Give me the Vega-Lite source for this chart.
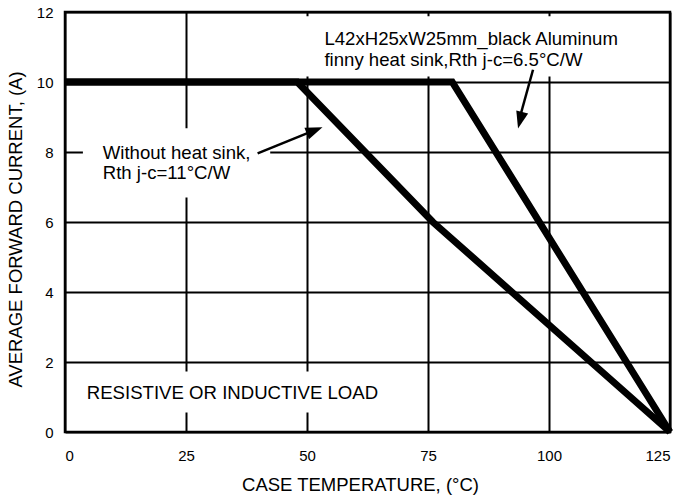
{
  "$schema": "https://vega.github.io/schema/vega-lite/v6.json",
  "width": 605,
  "height": 420,
  "autosize": "none",
  "padding": {"left": 65, "top": 12, "right": 11, "bottom": 68},
  "config": {
    "font": "Liberation Sans",
    "view": {"stroke": "black", "strokeWidth": 2.5},
    "axis": {
      "grid": true, "gridColor": "black", "gridWidth": 2, "gridOpacity": 1,
      "domain": false, "ticks": false, "tickSize": 0,
      "labelFont": "Liberation Sans", "labelFontSize": 15, "labelColor": "black",
      "titleFont": "Liberation Sans", "titleFontSize": 18.5, "titleFontWeight": "normal", "titleColor": "black"
    }
  },
  "datasets": {
    "curves": [
      {"temp": 0, "current": 10, "series": "Without heat sink"},
      {"temp": 48, "current": 10, "series": "Without heat sink"},
      {"temp": 76, "current": 6, "series": "Without heat sink"},
      {"temp": 125, "current": 0, "series": "Without heat sink"},
      {"temp": 0, "current": 10, "series": "Heat sink"},
      {"temp": 80, "current": 10, "series": "Heat sink"},
      {"temp": 125, "current": 0, "series": "Heat sink"}
    ],
    "boxes": [
      {"x1": 3.7, "x2": 42.4, "y1": 6.7, "y2": 8.68},
      {"x1": 46, "x2": 117, "y1": 10.16, "y2": 11.88},
      {"x1": 1, "x2": 68, "y1": 0.56, "y2": 1.73}
    ],
    "labels": [
      {"x": 7.8, "y": 7.96, "label": "Without heat sink,"},
      {"x": 7.8, "y": 7.39, "label": "Rth j-c=11°C/W"},
      {"x": 53.6, "y": 11.22, "label": "L42xH25xW25mm_black Aluminum"},
      {"x": 53.6, "y": 10.62, "label": "finny heat sink,Rth j-c=6.5°C/W"},
      {"x": 4.5, "y": 1.11, "label": "RESISTIVE OR INDUCTIVE LOAD"}
    ],
    "arrow1": [{"x": 39.8, "y": 7.96, "x2": 51.5, "y2": 8.62}],
    "arrow1head": [{"x": 53.2, "y": 8.71}],
    "arrow2": [{"x": 96.7, "y": 10.35, "x2": 94.0, "y2": 9.0}],
    "arrow2head": [{"x": 93.6, "y": 8.67}]
  },
  "layer": [
    {
      "data": {"name": "boxes"},
      "mark": {"type": "rect", "fill": "white", "stroke": null},
      "encoding": {
        "x": {"field": "x1", "type": "quantitative", "scale": {"domain": [0, 125], "nice": false, "zero": false},
              "axis": {"values": [0, 25, 50, 75, 100, 125], "labelPadding": 16, "title": "CASE TEMPERATURE, (°C)", "titleY": 43, "titleBaseline": "top", "titleX": 295}},
        "x2": {"field": "x2"},
        "y": {"field": "y1", "type": "quantitative", "scale": {"domain": [0, 12], "nice": false, "zero": false},
              "axis": {"values": [0, 2, 4, 6, 8, 10, 12], "labelPadding": 12, "title": "AVERAGE FORWARD CURRENT, (A)", "titleX": -50, "titleY": 217, "titleBaseline": "middle", "titleAngle": 270}},
        "y2": {"field": "y2"}
      }
    },
    {
      "data": {"name": "curves"},
      "mark": {"type": "line", "color": "black", "strokeWidth": 7, "strokeJoin": "miter", "strokeCap": "butt"},
      "encoding": {
        "x": {"field": "temp", "type": "quantitative"},
        "y": {"field": "current", "type": "quantitative"},
        "detail": {"field": "series"}
      }
    },
    {
      "data": {"name": "arrow1"},
      "mark": {"type": "rule", "color": "black", "strokeWidth": 2.5},
      "encoding": {
        "x": {"field": "x", "type": "quantitative"},
        "y": {"field": "y", "type": "quantitative"},
        "x2": {"field": "x2"},
        "y2": {"field": "y2"}
      }
    },
    {
      "data": {"name": "arrow2"},
      "mark": {"type": "rule", "color": "black", "strokeWidth": 2.5},
      "encoding": {
        "x": {"field": "x", "type": "quantitative"},
        "y": {"field": "y", "type": "quantitative"},
        "x2": {"field": "x2"},
        "y2": {"field": "y2"}
      }
    },
    {
      "data": {"name": "arrow1head"},
      "mark": {"type": "point", "shape": "M0,0L-1,-0.36L-1,0.36Z", "filled": true, "color": "black", "opacity": 1, "size": 1156, "angle": -21.8},
      "encoding": {
        "x": {"field": "x", "type": "quantitative"},
        "y": {"field": "y", "type": "quantitative"}
      }
    },
    {
      "data": {"name": "arrow2head"},
      "mark": {"type": "point", "shape": "M0,0L-1,-0.36L-1,0.36Z", "filled": true, "color": "black", "opacity": 1, "size": 1156, "angle": 104.3},
      "encoding": {
        "x": {"field": "x", "type": "quantitative"},
        "y": {"field": "y", "type": "quantitative"}
      }
    },
    {
      "data": {"name": "labels"},
      "mark": {"type": "text", "align": "left", "baseline": "middle", "fontSize": 18.6, "font": "Liberation Sans", "color": "black"},
      "encoding": {
        "x": {"field": "x", "type": "quantitative"},
        "y": {"field": "y", "type": "quantitative"},
        "text": {"field": "label"}
      }
    }
  ]
}
